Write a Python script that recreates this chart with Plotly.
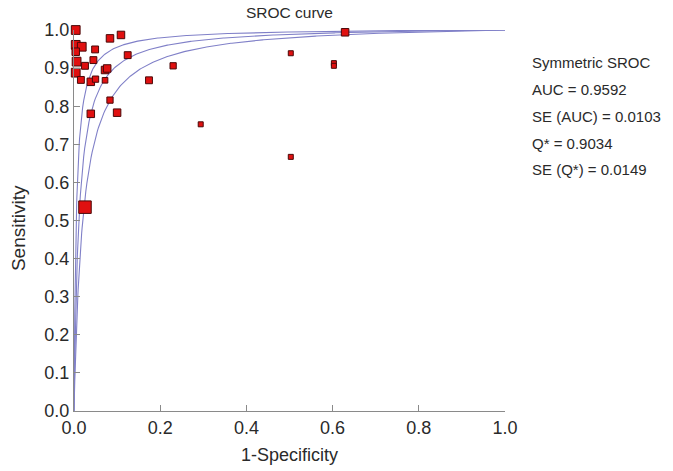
import numpy as np
import plotly.graph_objects as go

# ---- data ----
fpr = [0.004, 0.0835, 0.109, 0.004, 0.018, 0.004, 0.049, 0.045, 0.006, 0.0255,
       0.1246, 0.230, 0.072, 0.077, 0.004, 0.016, 0.039, 0.050, 0.072, 0.174,
       0.0835, 0.039, 0.100, 0.294, 0.503, 0.603, 0.603, 0.629, 0.503, 0.0255]
sens = [1.000, 0.978, 0.987, 0.961, 0.956, 0.943, 0.949, 0.921, 0.917, 0.906,
        0.934, 0.906, 0.895, 0.899, 0.888, 0.869, 0.864, 0.871, 0.868, 0.868,
        0.816, 0.780, 0.783, 0.7525, 0.939, 0.913, 0.906, 0.994, 0.667, 0.535]
weight = [7, 6, 6, 7, 7, 6, 5.5, 5.5, 7, 5.5,
          5.5, 5, 6, 6, 7, 5.5, 6, 5, 4.5, 5.5,
          5, 6, 6, 4, 4, 4, 4, 6, 4, 10]

q_star = 0.9034
se_q = 0.0149
auc = 0.9592
se_auc = 0.0103
stats_lines = ["Symmetric SROC", "AUC = 0.9592", "SE (AUC) = 0.0103",
               "Q* = 0.9034", "SE (Q*) = 0.0149"]
ticks = [0.0, 0.1, 0.2, 0.3, 0.4, 0.5, 0.6, 0.7, 0.8, 0.9, 1.0]
xticks = [0.0, 0.2, 0.4, 0.6, 0.8, 1.0]

FONT = "Liberation Sans"
TXT = "#2a2a2a"

def sroc(q, x):
    a = 2 * np.log(q / (1 - q))
    x = np.asarray(x)
    with np.errstate(divide="ignore"):
        odds = np.exp(a) * x / (1 - x)
    return odds / (1 + odds)

xs = np.concatenate([[0.0], np.geomspace(1e-7, 0.02, 200), np.linspace(0.02, 0.999999, 400)])

fig = go.Figure()
for q in [q_star - 1.96 * se_q, q_star, q_star + 1.96 * se_q]:
    yy = sroc(q, xs); yy[0] = 0.0
    fig.add_trace(go.Scatter(x=np.append(xs, 1.0), y=np.append(yy, 1.0), mode="lines",
                             line=dict(color="#8080c8", width=1.1),
                             hoverinfo="skip", showlegend=False, cliponaxis=False))

fig.add_trace(go.Scatter(x=fpr, y=sens, mode="markers", cliponaxis=False,
                         marker=dict(symbol="square", size=[w * 1.25 for w in weight],
                                     color="#e01010", opacity=1,
                                     line=dict(color="#4a0808", width=1)),
                         showlegend=False))

annotations = [dict(text="SROC curve", x=0.5, y=1.047, xref="paper", yref="paper",
                    showarrow=False, xanchor="center", yanchor="middle",
                    font=dict(size=15.5, color=TXT, family=FONT)),
               dict(text="1-Specificity", x=0.5, y=-0.1155, xref="paper", yref="paper",
                    showarrow=False, xanchor="center", yanchor="middle",
                    font=dict(size=18, color=TXT, family=FONT)),
               dict(text="Sensitivity", x=-0.13, y=0.48, xref="paper", yref="paper",
                    showarrow=False, xanchor="center", yanchor="middle", textangle=-90,
                    font=dict(size=19, color=TXT, family=FONT))]
line_y = [0.916, 0.845, 0.774, 0.703, 0.633]
for t, yv in zip(stats_lines, line_y):
    annotations.append(dict(text=t, x=1.058, y=yv, xref="paper", yref="paper",
                            showarrow=False, xanchor="left", yanchor="middle",
                            font=dict(size=15, color=TXT, family=FONT)))

fig.update_layout(
    width=673, height=471,
    margin=dict(l=74, r=168, t=30, b=60),
    paper_bgcolor="white", plot_bgcolor="white",
    font=dict(family=FONT, size=15, color=TXT),
    annotations=annotations,
    showlegend=False,
)
fig.update_xaxes(range=[0, 1], tickvals=xticks, ticktext=[f"{v:.1f}" for v in xticks],
                 showgrid=False, zeroline=False, showline=True, linecolor="#8a8a8a",
                 linewidth=1.2, ticks="inside", ticklen=6, tickcolor="#8a8a8a",
                 tickfont=dict(size=18, color=TXT, family=FONT))
fig.update_yaxes(range=[0, 1], tickvals=ticks, ticktext=[f"{v:.1f}" for v in ticks],
                 showgrid=False, zeroline=False, showline=True, linecolor="#8a8a8a",
                 linewidth=1.2, ticks="inside", ticklen=6, tickcolor="#8a8a8a",
                 tickfont=dict(size=18, color=TXT, family=FONT))

fig.write_html("out.html", config={"displayModeBar": False},
               post_script="document.body.style.margin='0';")
